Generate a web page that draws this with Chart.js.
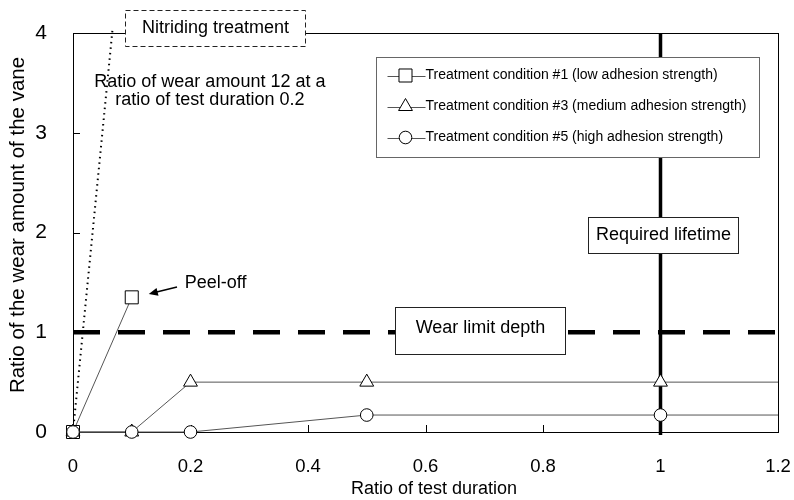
<!DOCTYPE html>
<html>
<head>
<meta charset="utf-8">
<script src="https://cdn.jsdelivr.net/npm/chart.js@4.4.0/dist/chart.umd.min.js"></script>
<style>
  html, body { margin: 0; padding: 0; background: #fff; }
  #wrap { width: 794px; height: 500px; }
</style>
</head>
<body>
<div id="wrap"><canvas id="chart"></canvas></div>
<script>
const xTicks = [0, 0.2, 0.4, 0.6, 0.8, 1, 1.2];
const yTicks = [0, 1, 2, 3, 4];

const seriesNames = [
  'Treatment condition #1 (low adhesion strength)',
  'Treatment condition #3 (medium adhesion strength)',
  'Treatment condition #5 (high adhesion strength)'
];
const cond1X = [0, 0.1];
const cond1Y = [0, 1.35];
const cond3X = [0, 0.1, 0.2, 0.5, 1, 1.2];
const cond3Y = [0, 0, 0.5, 0.5, 0.5, 0.5];
const cond5X = [0, 0.1, 0.2, 0.5, 1, 1.2];
const cond5Y = [0, 0, 0, 0.17, 0.17, 0.17];
// nitriding: wear 12 at duration 0.2 (off the top of the plot)
const nitrideX = [0, 0.2];
const nitrideY = [0, 12];
const wearLimit = 1;
const requiredLife = 1;

const FONT = "'Liberation Sans', Arial, sans-serif";

const pts = (xs, ys) => xs.map((x, i) => ({ x, y: ys[i] }));
const markerRadius = r => c => (c.raw && c.raw.x > 1.1) ? 0 : r;

// annotations in data units
const boxes = [
  { text: 'Nitriding treatment', x0: 0.0885, x1: 0.395, y0: 3.87, y1: 4.23, dash: [5, 3] },
  { text: 'Wear limit depth', x0: 0.548, x1: 0.837, y0: 0.782, y1: 1.253, ty: 1.04 },
  { text: 'Required lifetime', x0: 0.877, x1: 1.132, y0: 1.795, y1: 2.155 }
];
const notes = [
  { text: 'Ratio of wear amount 12 at a', x: 0.233, y: 3.51 },
  { text: 'ratio of test duration 0.2', x: 0.233, y: 3.33 },
  { text: 'Peel-off', x: 0.2426, y: 1.497 }
];
const peelArrow = { x0: 0.177, y0: 1.454, x1: 0.129, y1: 1.383 };
const legendBox = { x0: 0.516, x1: 1.168, y0: 2.757, y1: 3.759 };

const styles = [
  { pointStyle: 'rect', radius: 9.2 },
  { pointStyle: 'triangle', radius: 8 },
  { pointStyle: 'circle', radius: 6.3 }
];

function lineDs(label, data, st, order) {
  return {
    label, data, order, clip: false,
    borderColor: '#555', borderWidth: 1, tension: 0,
    pointStyle: st.pointStyle,
    pointRadius: markerRadius(st.radius),
    pointBackgroundColor: '#fff', pointBorderColor: '#000', pointBorderWidth: 1
  };
}

const overlay = {
  id: 'overlay',
  beforeDatasetsDraw(chart) {
    const { ctx, chartArea: a, scales: { x, y } } = chart;
    ctx.save();
    ctx.strokeStyle = '#000';
    ctx.lineWidth = 1;
    ctx.strokeRect(a.left + 0.5, a.top + 0.5, a.right - a.left, a.bottom - a.top);
    ctx.beginPath();
    xTicks.slice(1, -1).forEach(v => {
      const px = Math.round(x.getPixelForValue(v)) + 0.5;
      ctx.moveTo(px, a.bottom); ctx.lineTo(px, a.bottom - 7);
    });
    yTicks.slice(1, -1).forEach(v => {
      const py = Math.round(y.getPixelForValue(v)) + 0.5;
      ctx.moveTo(a.left, py); ctx.lineTo(a.left + 7, py);
    });
    ctx.stroke();

    // wear limit depth
    const wy = y.getPixelForValue(wearLimit);
    ctx.lineWidth = 4.5;
    ctx.setLineDash([27, 18]);
    ctx.beginPath();
    ctx.moveTo(a.left, wy); ctx.lineTo(a.right - 3, wy);
    ctx.stroke();

    // required lifetime
    const rx = x.getPixelForValue(requiredLife);
    ctx.setLineDash([]);
    ctx.lineWidth = 3.5;
    ctx.beginPath();
    ctx.moveTo(rx, a.top); ctx.lineTo(rx, a.bottom + 3);
    ctx.stroke();
    ctx.restore();
  },
  afterDatasetsDraw(chart) {
    const { ctx, scales: { x, y } } = chart;
    ctx.save();
    ctx.textAlign = 'center';
    ctx.textBaseline = 'middle';
    ctx.fillStyle = '#000';

    boxes.forEach(b => {
      const l = Math.round(x.getPixelForValue(b.x0)) + 0.5, r = Math.round(x.getPixelForValue(b.x1)) + 0.5;
      const t = Math.round(y.getPixelForValue(b.y1)) + 0.5, btm = Math.round(y.getPixelForValue(b.y0)) + 0.5;
      ctx.fillStyle = '#fff';
      ctx.fillRect(l, t, r - l, btm - t);
      ctx.strokeStyle = '#222';
      ctx.lineWidth = 1;
      ctx.setLineDash(b.dash || []);
      ctx.strokeRect(l, t, r - l, btm - t);
      ctx.setLineDash([]);
      ctx.fillStyle = '#000';
      ctx.font = '18px ' + FONT;
      const ty = b.ty !== undefined ? y.getPixelForValue(b.ty) : (t + btm) / 2;
      ctx.fillText(b.text, (l + r) / 2, ty);
    });

    ctx.font = '18px ' + FONT;
    notes.forEach(n => ctx.fillText(n.text, x.getPixelForValue(n.x), y.getPixelForValue(n.y)));

    // peel-off arrow
    const ax0 = x.getPixelForValue(peelArrow.x0), ay0 = y.getPixelForValue(peelArrow.y0);
    const ax1 = x.getPixelForValue(peelArrow.x1), ay1 = y.getPixelForValue(peelArrow.y1);
    const ang = Math.atan2(ay1 - ay0, ax1 - ax0);
    ctx.strokeStyle = '#000';
    ctx.lineWidth = 1.5;
    ctx.beginPath();
    ctx.moveTo(ax0, ay0);
    ctx.lineTo(ax1 - 6 * Math.cos(ang), ay1 - 6 * Math.sin(ang));
    ctx.stroke();
    ctx.beginPath();
    ctx.moveTo(ax1, ay1);
    ctx.lineTo(ax1 - 9 * Math.cos(ang) + 4 * Math.sin(ang), ay1 - 9 * Math.sin(ang) - 4 * Math.cos(ang));
    ctx.lineTo(ax1 - 9 * Math.cos(ang) - 4 * Math.sin(ang), ay1 - 9 * Math.sin(ang) + 4 * Math.cos(ang));
    ctx.closePath();
    ctx.fill();

    // legend
    const ll = Math.round(x.getPixelForValue(legendBox.x0)) + 0.5, lr = Math.round(x.getPixelForValue(legendBox.x1)) + 0.5;
    const lt = Math.round(y.getPixelForValue(legendBox.y1)) + 0.5, lb = Math.round(y.getPixelForValue(legendBox.y0)) + 0.5;
    ctx.fillStyle = '#fff';
    ctx.fillRect(ll, lt, lr - ll, lb - lt);
    ctx.strokeStyle = '#666';
    ctx.lineWidth = 1;
    ctx.strokeRect(ll, lt, lr - ll, lb - lt);
    ctx.font = '14px ' + FONT;
    ctx.textAlign = 'left';
    seriesNames.forEach((name, i) => {
      const ry = lt + 18 + i * 31;
      ctx.strokeStyle = '#555';
      ctx.beginPath();
      ctx.moveTo(ll + 11, Math.round(ry) + 0.5); ctx.lineTo(ll + 49, Math.round(ry) + 0.5);
      ctx.stroke();
      ctx.fillStyle = '#fff';
      ctx.strokeStyle = '#000';
      Chart.helpers.drawPoint(ctx, { pointStyle: styles[i].pointStyle, radius: styles[i].radius, rotation: 0, borderWidth: 1 }, ll + 29, ry);
      ctx.fillStyle = '#000';
      ctx.fillText(name, ll + 49, ry);
    });

    // axis titles
    ctx.textAlign = 'center';
    ctx.font = '18px ' + FONT;
    ctx.fillText('Ratio of test duration', 434, 489);
    ctx.translate(18, 225);
    ctx.rotate(-Math.PI / 2);
    ctx.font = '20.5px ' + FONT;
    ctx.fillText('Ratio of the wear amount of the vane', 0, 0);
    ctx.restore();
  }
};

new Chart(document.getElementById('chart'), {
  type: 'line',
  data: {
    datasets: [
      lineDs(seriesNames[0], pts(cond1X, cond1Y), styles[0], 2),
      lineDs(seriesNames[1], pts(cond3X, cond3Y), styles[1], 1),
      lineDs(seriesNames[2], pts(cond5X, cond5Y), styles[2], 0),
      {
        label: 'Nitriding treatment', data: pts(nitrideX, nitrideY), order: 3,
        borderColor: '#000', borderWidth: 2, borderDash: [1.5, 4], pointRadius: 0,
        tension: 0, clip: { left: 0, top: 6, right: 0, bottom: 0 }
      }
    ]
  },
  options: {
    responsive: true,
    maintainAspectRatio: false,
    animation: false,
    layout: { padding: { left: 0, right: 16, top: 33, bottom: 0 } },
    plugins: { legend: { display: false }, tooltip: { enabled: false } },
    scales: {
      x: {
        type: 'linear', min: 0, max: 1.2,
        afterBuildTicks: s => { s.ticks = xTicks.map(v => ({ value: v })); },
        afterFit: s => { s.height = 68; s.paddingLeft = 0; s.paddingRight = 0; },
        grid: { display: false }, border: { display: false },
        ticks: { color: '#000', font: { family: FONT, size: 18.5 }, padding: 16, maxRotation: 0, autoSkip: false, callback: v => String(v) }
      },
      y: {
        type: 'linear', min: 0, max: 4,
        afterBuildTicks: s => { s.ticks = yTicks.map(v => ({ value: v })); },
        afterFit: s => { s.width = 73; s.paddingTop = 0; s.paddingBottom = 0; },
        grid: { display: false }, border: { display: false },
        ticks: { color: '#000', font: { family: FONT, size: 21 }, padding: 18, callback: v => String(v) }
      }
    }
  },
  plugins: [overlay]
});
</script>
</body>
</html>
